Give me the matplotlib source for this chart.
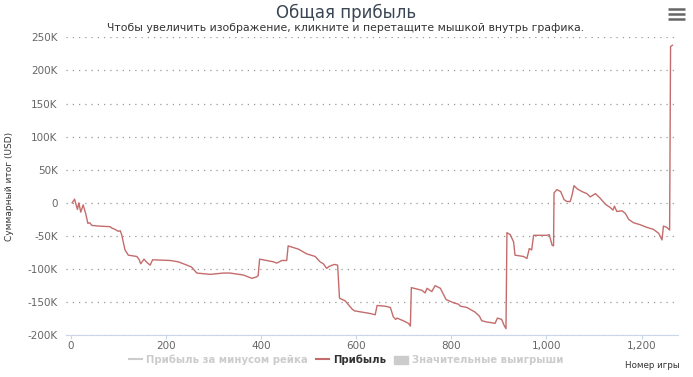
"""Plot cumulative profit per game number."""

import matplotlib.pyplot as plt
from matplotlib.lines import Line2D
from matplotlib.patches import Patch
from matplotlib.ticker import FuncFormatter

# game number and cumulative profit (thousands of USD)
games = [3, 8, 11, 14, 17, 21, 26, 31, 36, 40, 44, 57, 83, 86, 93, 100, 104,
         107, 114, 121, 139, 144, 147, 154, 160, 167, 172, 209, 226, 244, 254,
         265, 293, 321, 335, 363, 381, 390, 394, 397, 412, 426, 433, 444, 454,
         457, 479, 496, 514, 519, 524, 531, 538, 543, 554, 561, 565, 577, 591,
         596, 629, 640, 644, 661, 672, 678, 683, 686, 699, 710, 714, 716, 738,
         745, 749, 759, 766, 777, 789, 805, 815, 819, 833, 850, 859, 864, 875,
         885, 892, 897, 906, 911, 915, 917, 924, 931, 934, 952, 959, 964, 969,
         973, 1001, 1006, 1012, 1015, 1016, 1022, 1030, 1037, 1043, 1050, 1054,
         1058, 1065, 1075, 1085, 1092, 1103, 1113, 1124, 1134, 1140, 1143, 1148,
         1159, 1166, 1173, 1183, 1197, 1211, 1225, 1236, 1243, 1246, 1253, 1259,
         1261, 1265]
profit = [0, 5.6, -2, -10, 0, -14, -3, -15, -31, -30, -34, -35, -36, -38, -40,
          -43, -42, -48, -71, -79, -81, -86, -92, -85, -90, -94, -86, -87, -89,
          -94, -97, -106, -108, -106, -106, -109, -114, -112, -110, -85, -87,
          -89, -91, -87, -87, -65, -70, -77, -81, -85, -89, -92, -99, -96, -93,
          -94, -144, -148, -160, -163, -167, -169, -155, -156, -158, -172, -176,
          -174, -178, -182, -186, -128, -132, -136, -129, -134, -125, -129,
          -146, -151, -153, -156, -158, -165, -171, -178, -180, -181, -182,
          -174, -176, -185, -190, -45, -48, -59, -79, -81, -84, -69, -71, -49,
          -49, -48, -64, -65, 15, 20, 17, 5, 2, 2, 12, 26, 21, 17, 14, 9, 14, 7,
          -2, -7, -11, -5, -13, -12, -16, -25, -30, -33, -37, -40, -46, -56,
          -35, -37, -41, 236, 238]

yticks = [-200, -150, -100, -50, 0, 50, 100, 150, 200, 250]
xticks = [0, 200, 400, 600, 800, 1000, 1200]
legend_labels = ['Прибыль за минусом рейка', 'Прибыль',
                 'Значительные выигрыши']


def main():
    """Main program called during execution."""

    # initialize figure
    fig = plt.figure(figsize=(6.93, 3.77), dpi=100)
    W, H = 693, 377
    ax = fig.add_axes([66/W, 1-335.3/H, (677.7-66)/W, (335.3-37.3)/H])

    # plot profit curve
    ax.plot(games, [p*1000 for p in profit], color='#c46c6c', lw=1.0,
            solid_joinstyle='round', zorder=3)

    # set axes properties
    ax.set_xlim(-10, 1276)
    ax.set_ylim(-200000, 250000)
    ax.set_xticks(xticks)
    ax.set_yticks([t*1000 for t in yticks])
    ax.xaxis.set_major_formatter(FuncFormatter(lambda v, _: f'{v:,.0f}'))
    ax.yaxis.set_major_formatter(FuncFormatter(
        lambda v, _: '0' if v == 0 else f'{v/1000:.0f}K'))
    for side in ('top', 'right', 'left'):
        ax.spines[side].set_visible(False)
    ax.spines['bottom'].set_color('#ccd6eb')
    ax.tick_params(axis='x', colors='#ccd6eb', labelcolor='#666666',
                   labelsize=7.5, length=3, pad=1)
    ax.tick_params(axis='y', length=0, labelcolor='#666666', labelsize=7.5,
                   pad=6)
    ax.grid(axis='y', color='#999999', linestyle=(0, (1, 4)), lw=0.9)
    ax.set_axisbelow(True)
    ax.set_ylabel('Суммарный итог (USD)', fontsize=6.5, color='#333333')
    ax.yaxis.set_label_coords(-52/611.7, 0.5)

    # titles
    fig.text(346/W, 1-13/H, 'Общая прибыль', ha='center', va='center',
             fontsize=12, color='#3b4654')
    fig.text(346/W, 1-28/H, 'Чтобы увеличить изображение, кликните и '
             'перетащите мышкой внутрь графика.', ha='center', va='center',
             fontsize=7.8, color='#333333')
    fig.text(680/W, 1-365/H, 'Номер игры', ha='right', va='center',
             fontsize=6.3, color='#333333')

    # menu icon
    for y in (9.2, 14.2, 19.2):
        fig.add_artist(Line2D([668/W, 685/W], [1-y/H, 1-y/H], color='#666666',
                              lw=1.8, solid_capstyle='butt'))

    # legend
    handles = [Line2D([], [], color='#cccccc', lw=1.5),
               Line2D([], [], color='#c46c6c', lw=1.5),
               Patch(color='#cccccc')]
    leg = fig.legend(handles, legend_labels, loc='center', ncol=3,
                     bbox_to_anchor=(346/W, 1-360/H), frameon=False,
                     prop={'size': 7.3, 'weight': 'bold'}, handlelength=1.3,
                     handleheight=0.9, handletextpad=0.4, columnspacing=0.8)
    for text, color in zip(leg.get_texts(), ('#cccccc', '#333333', '#cccccc')):
        text.set_color(color)

    # save figure
    fig.savefig('out.png', dpi=100)


if __name__ == '__main__':
    main()
